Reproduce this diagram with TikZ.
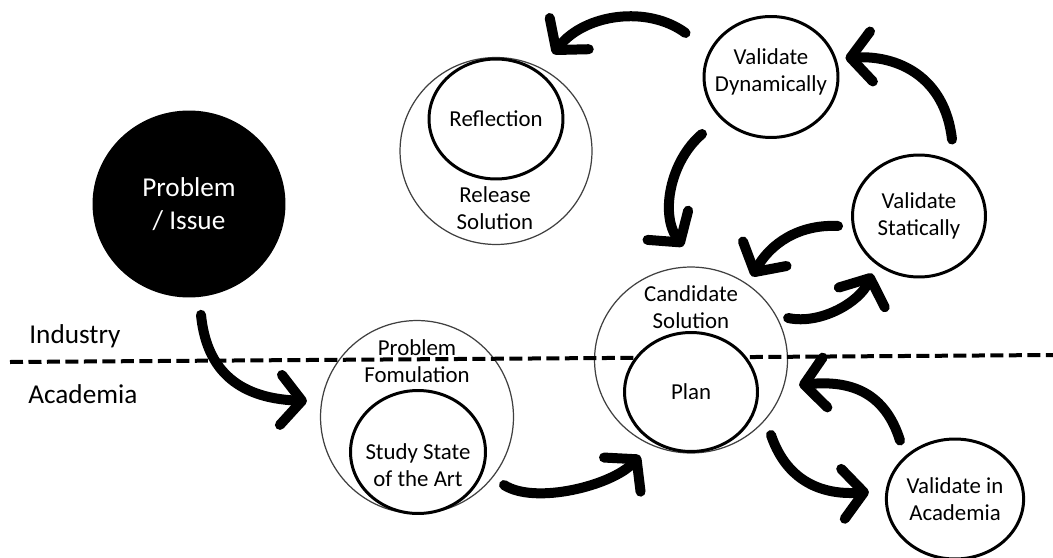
\documentclass[tikz,border=0pt]{standalone}
\usepackage{fontspec}
\setmainfont{Carlito}
\usetikzlibrary{arrows.meta,shapes.geometric}

\begin{document}
\begin{tikzpicture}[x=0.02cm,y=-0.02cm,
  txt/.style={font=\fontsize{13}{15.5}\selectfont, align=center, text=black, inner sep=0pt},
  ring/.style={ellipse, draw=black, line width=1.7pt, fill=white, inner sep=0pt, txt},
  halo/.style={ellipse, draw=black!75, line width=0.7pt, inner sep=0pt},
  arr/.style={line width=0.2cm, line cap=round,
    -{Straight Barb[length=0.42cm, width=1.0cm, round]}},
  lane/.style={font=\fontsize{15.5}{18}\selectfont, anchor=west, inner sep=0pt},
  divider/.style={line width=0.08cm, dash pattern=on 0.26cm off 0.11cm},
]
\useasboundingbox (0,0) rectangle (1053,557);

% large container circles
\node[halo, minimum width=3.84cm, minimum height=3.74cm] (rel) at (496,151) {};
\node[halo, minimum width=3.86cm, minimum height=3.72cm] (cand) at (691,360) {};
\node[halo, minimum width=3.86cm, minimum height=3.86cm] (pf) at (417,417) {};

% industry / academia boundary
\coordinate (dl) at (10,362);
\coordinate (dr) at (1053,355);
\draw[divider] (dl) -- (dr);

\node[lane] (ind) at (29,336) {Industry};
\node[lane] (acad) at (28,394) {Academia};

% starting point
\node[ellipse, fill=black, minimum width=3.86cm, minimum height=3.74cm, inner sep=0pt,
      font=\fontsize{15.5}{18.5}\selectfont, text=white, align=center]
      (prob) at (189,204) {Problem\\/ Issue};

% inner circles and single steps
\node[ring, minimum width=2.68cm, minimum height=2.4cm] (refl) at (496,119) {Reflection};
\node[txt] (reltxt) at (495,208) {Release\\Solution};

\node[ring, minimum width=2.68cm, minimum height=2.42cm] (vd) at (771,77) {};
\node[txt] (vdtxt) at (771,72) {Validate\\Dynamically};
\node[ring, minimum width=2.66cm, minimum height=2.44cm] (vs) at (919,216) {Validate\\Statically};

\node[txt] (candtxt) at (691,307) {Candidate\\Solution};
\node[ring, minimum width=2.66cm, minimum height=2.38cm] (plan) at (691,392) {Plan};

\node[ring, minimum width=2.7cm, minimum height=2.4cm] (via) at (955,499) {Validate in\\Academia};

\node[txt] (pftxt) at (417,361) {Problem\\Fomulation};
\node[ring, minimum width=2.7cm, minimum height=2.46cm] (ssa) at (418,452) {};
\node[txt] (ssatxt) at (418,465) {Study State\\of the Art};

% flow between the steps
\draw[arr] ([shift={(12,17)}]prob.south) .. controls +(5,51) and +(-73,-3) .. ([shift={(-13,-16)}]pf.west);
\draw[arr] ([shift={(86,33)}]ssa.center) .. controls +(31,20) and +(-28,30) .. ([shift={(-51,2)}]cand.south);
\draw[arr] ([shift={(0,-42)}]cand.east) .. controls +(33,7) and +(-12,28) .. ([shift={(-47,-5)}]vs.south);
\draw[arr] ([shift={(-13,10)}]vs.west) .. controls +(-40,-2) and +(18,-32) .. ([shift={(61,10)}]cand.north);
\draw[arr] ([shift={(33,-14)}]vs.north) .. controls +(-7,-63) and +(52,-3) .. ([shift={(6,-19)}]vd.east);
\draw[arr] ([shift={(-17,-44)}]vd.west) .. controls +(-38,-28) and +(32,-40) .. ([shift={(57,-3)}]rel.north);
\draw[arr] ([shift={(-69,-5)}]vd.south) .. controls +(-32,27) and +(-23,-32) .. ([shift={(-8,-20)}]cand.north);
\draw[arr] ([shift={(12,43)}]plan.east) .. controls +(17,50) and +(-42,3) .. ([shift={(-16,-7)}]via.west);
\draw[arr] ([shift={(-55,3)}]via.north) .. controls +(-15,-48) and +(52,-5) .. ([shift={(11,25)}]cand.east);
\end{tikzpicture}
\end{document}
